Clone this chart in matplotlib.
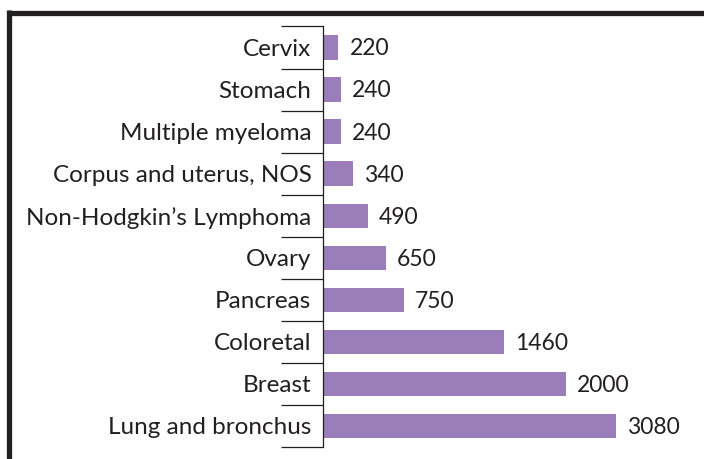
import matplotlib
matplotlib.use("Agg")
import matplotlib.pyplot as plt
from matplotlib.lines import Line2D
import numpy as np

plt.rcParams['font.family'] = ['Lato', 'DejaVu Sans']

categories = ["Cervix", "Stomach", "Multiple myeloma", "Corpus and uterus, NOS",
              "Non-Hodgkin\u2019s Lymphoma", "Ovary", "Pancreas", "Coloretal",
              "Breast", "Lung and bronchus"]
counts = [220, 240, 240, 340, 490, 650, 750, 1460, 2000, 3080]
# bar lengths as drawn in the picture (same units)
bar_lengths = [166, 194, 194, 320, 477, 666, 855, 1905, 2555, 3080]

TEXT = "#231f20"
BAR = "#9b7eb9"

fig = plt.figure(figsize=(7.04, 4.59), dpi=100)
W, H = 704, 459
ax = fig.add_axes([322.5 / W, 1 - 447 / H, 1 - 322.5 / W, (447 - 26.5) / H])

y = np.arange(len(categories))
ax.barh(y, bar_lengths, height=0.58, color=BAR, zorder=2)
ax.set_ylim(len(categories) - 0.5, -0.5)
ax.set_xlim(0, 4003)

for yi, length, c in zip(y, bar_lengths, counts):
    ax.annotate(str(c), xy=(length, yi), xytext=(8, -1), textcoords="offset points",
                va="center", ha="left", fontsize=16.5, color=TEXT)

ax.set_yticks(y)
ax.set_yticklabels(categories, fontsize=17.5, color=TEXT)
ax.set_yticks(np.arange(-0.5, len(categories), 1), minor=True)
ax.tick_params(axis="y", which="major", length=0, pad=8)
ax.tick_params(axis="y", which="minor", length=30.5, width=0.9, color=TEXT, direction="out")
ax.set_xticks([])
for s in ["top", "right", "bottom"]:
    ax.spines[s].set_visible(False)
ax.spines["left"].set_linewidth(0.9)
ax.spines["left"].set_color(TEXT)

# outer frame (top and left edges)
fig.add_artist(Line2D([6.7 / W, 1], [1 - 12.7 / H, 1 - 12.7 / H], color=TEXT,
                      linewidth=3.8, solid_capstyle="butt", transform=fig.transFigure))
fig.add_artist(Line2D([9.3 / W, 9.3 / W], [1 - 10.3 / H, 0], color=TEXT,
                      linewidth=3.8, solid_capstyle="butt", transform=fig.transFigure))

fig.savefig("out.png", dpi=100)
